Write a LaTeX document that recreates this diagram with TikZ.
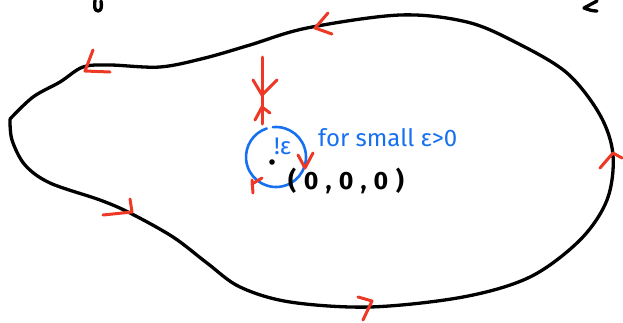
\documentclass[tikz,border=0pt]{standalone}
\usepackage{fontspec}
\setmainfont{Fira Sans}
\definecolor{penred}{RGB}{236,56,36}
\definecolor{penblue}{RGB}{22,112,240}
\tikzset{
  outline/.style={line width=3.3pt, black, line cap=round, line join=round},
  redmark/.style={line width=3pt, penred, line cap=round, line join=round},
  bluepen/.style={line width=2.6pt, penblue, line cap=round},
  bluetext/.style={text=penblue, inner sep=0pt, font=\fontsize{24}{26}\selectfont},
  blacktext/.style={text=black, inner sep=0pt, font=\fontsize{25}{28}\selectfont\bfseries\addfontfeature{LetterSpace=30}},
}
\begin{document}
\begin{tikzpicture}[x=1pt,y=-1pt]
\useasboundingbox (0,0) rectangle (623,322);
% closed contour, with a sharp tip at the left
\draw[outline] plot[smooth, tension=0.55] coordinates {
 (10,119) (33,97) (60,82) (83,67) (110,65) (160,67) (205,58) (250,45) (307,28)
 (400,15) (467,22) (517,43) (567,73) (600,115) (613,155) (607,200) (580,240)
 (530,277) (463,297) (370,307) (290,302) (240,287) (207,263) (173,237)
 (130,213) (100,200) (50,183) (25,165) (12,140) (10,119)};
% cut-off fragments at the top
\draw[outline] (95,0) to[out=-95,in=180] (98,11) to[out=0,in=-80] (101,1);
\draw[outline] (597,1) -- (584,8) to[out=-20,in=180] (597,11);
% orientation marks on the contour
\draw[redmark] (93,50) -- (85,71) -- (110,72);
\draw[redmark] (328,13) -- (315,28) -- (332,34);
\draw[redmark] (600,168) -- (613,153) -- (622,158);
\draw[redmark] (358,297) -- (372,301) -- (363,320);
\draw[redmark] (130,199) -- (132,212) -- (103,215);
% cut line into the small circle
\coordinate (cuttop) at (262,57);
\coordinate (cutbot) at (262,124);
\draw[redmark] (cuttop) -- (cutbot);
\draw[redmark] (253,80) -- (262,95) -- (277,80);
\draw[redmark] (255,120) -- (262,107) -- (270,113);
% small circle
\draw[bluepen] (276,157) ++(-96:30) arc[start angle=-96, end angle=252, radius=30];
\draw[redmark] (298,155) -- (305,168) -- (313,153);
\draw[redmark] (252,180) -- (253,193);
\draw[redmark] (252,184) -- (262,178);
\fill (272,162) circle (2.8);
% labels
\node[bluetext, anchor=west] (eps) at (274,146) {!ε};
\node[bluetext, anchor=west] (small) at (318,138) {for small ε>0};
\node[blacktext, anchor=west] (origin) at (288,181) {(0,0,0)};
\end{tikzpicture}
\end{document}
